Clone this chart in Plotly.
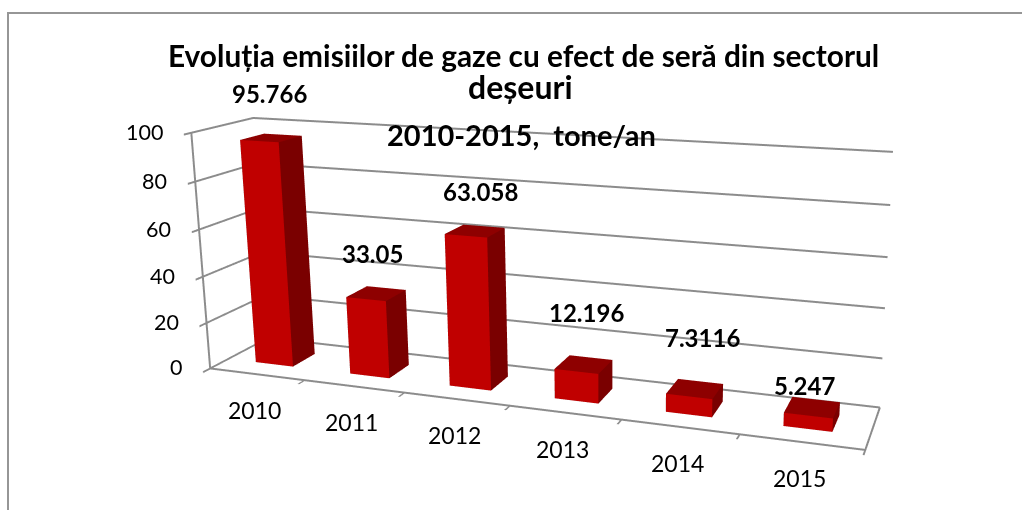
import numpy as np
import plotly.graph_objects as go

years = ["2010", "2011", "2012", "2013", "2014", "2015"]
values = [95.766, 33.05, 63.058, 12.196, 7.3116, 5.247]
labels = ["95.766", "33.05", "63.058", "12.196", "7.3116", "5.247"]
label_dx = [-2, -4, 6, 3, 8, -8]
label_dy = [44, 40, 39, 52, 51, 22]
z_ticks = [0, 20, 40, 60, 80, 100]

# Camera matching the reference's perspective. The perspective of a Plotly scene is
# fixed by its pixel height, so the page is larger than the window and shifted.
EYE = dict(x=1.8341, y=-4.4382, z=1.2993)
CENTER = dict(x=0.2131, y=0.5045, z=0.0547)
UP = dict(x=-0.0031, y=-0.0056, z=1)
ASPECT = dict(x=2.7283, y=0.4278, z=1)
W, H = 1240, 1043          # scene size in px
TOP = -292                 # page offset of the figure

def xp(page_x): return page_x / W
def yp(page_y): return 1 - (page_y - TOP) / H

fig = go.Figure()
FRONT, SIDE, ROOF = "#C00000", "#7A0000", "#8E0000"
for i, v in enumerate(values):
    x0, x1, y0, y1 = i + .3, i + .7, .3, .7
    xs = [x0, x1, x1, x0, x0, x1, x1, x0]
    ys = [y0, y0, y1, y1, y0, y0, y1, y1]
    zs = [0, 0, 0, 0, v, v, v, v]
    tris = [(0, 1, 5, FRONT), (0, 5, 4, FRONT), (1, 2, 6, SIDE), (1, 6, 5, SIDE), (4, 5, 6, ROOF), (4, 6, 7, ROOF),
            (3, 2, 6, SIDE), (3, 6, 7, SIDE), (0, 3, 7, SIDE), (0, 7, 4, SIDE), (0, 1, 2, SIDE), (0, 2, 3, SIDE)]
    fig.add_trace(go.Mesh3d(x=xs, y=ys, z=zs, i=[t[0] for t in tris], j=[t[1] for t in tris], k=[t[2] for t in tris],
                            facecolor=[t[3] for t in tris], flatshading=True, hoverinfo="skip",
                            lighting=dict(ambient=1, diffuse=0, specular=0, roughness=1, fresnel=0)))
GRID = "#8c8c8c"
fig.add_trace(go.Scatter3d(x=[0, 6, 6], y=[0, 0, 1], z=[0, 0, 0], mode="lines",
                           line=dict(color=GRID, width=2.5), hoverinfo="skip"))

FONT = "Lato"
ann = []
for i, l in enumerate(labels):
    ann.append(dict(x=i + .5, y=.5, z=values[i], text=f"<b>{l}</b>", showarrow=False,
                    xshift=label_dx[i], yshift=label_dy[i], font=dict(family=FONT, size=24, color="black")))
for i, y in enumerate(years):
    ann.append(dict(x=i + .5, y=0, z=0, text=y, showarrow=False, yshift=-36, xshift=-2,
                    font=dict(family=FONT, size=23, color="black")))
for t in z_ticks:
    ann.append(dict(x=0, y=0, z=t, text=str(t), showarrow=False, xanchor="right", xshift=-26, yshift=1,
                    font=dict(family=FONT, size=21.5, color="black")))

axis = dict(showbackground=False, title="", showticklabels=False, showspikes=False, zeroline=False,
            showline=True, linecolor=GRID, linewidth=4)
fig.update_layout(
    width=W, height=H, margin=dict(l=0, r=0, t=0, b=0), paper_bgcolor="white", showlegend=False,
    scene=dict(domain=dict(x=[0, 1], y=[0, 1]), aspectmode="manual", aspectratio=ASPECT,
               camera=dict(eye=EYE, center=CENTER, up=UP),
               xaxis=dict(axis, range=[0, 6], tickvals=list(range(7)), ticks="outside", ticklen=8, tickcolor=GRID, tickwidth=4, showgrid=False),
               yaxis=dict(axis, range=[0, 1], tickvals=[0, 1], ticks="", showgrid=False),
               zaxis=dict(axis, range=[0, 100], tickvals=z_ticks, ticks="outside", ticklen=8, tickcolor=GRID, tickwidth=4,
                          showgrid=True, gridcolor=GRID, gridwidth=4),
               annotations=ann),
    annotations=[
        dict(xref="paper", yref="paper", x=xp(523), y=yp(55), yanchor="middle", showarrow=False,
             text="<b>Evoluția emisiilor de gaze cu efect de seră din sectorul</b>", font=dict(family=FONT, size=29.8, color="black")),
        dict(xref="paper", yref="paper", x=xp(520), y=yp(87), yanchor="middle", showarrow=False,
             text="<b>deșeuri</b>", font=dict(family=FONT, size=32, color="black")),
        dict(xref="paper", yref="paper", x=xp(521), y=yp(135), yanchor="middle", showarrow=False,
             text="<b>2010-2015,  tone/an</b>", font=dict(family=FONT, size=29, color="black"))],
    shapes=[dict(type="rect", xref="paper", yref="paper", x0=xp(8), x1=1.05, y0=-0.05, y1=yp(13),
                 line=dict(color="#969696", width=2))])
js = ("var g=document.getElementById('{plot_id}');g.style.position='absolute';g.style.left='0';"
      f"g.style.top='{TOP}px';document.body.style.margin='0';document.body.style.overflow='hidden';")
fig.write_html("out.html", post_script=js, config=dict(displayModeBar=False))
